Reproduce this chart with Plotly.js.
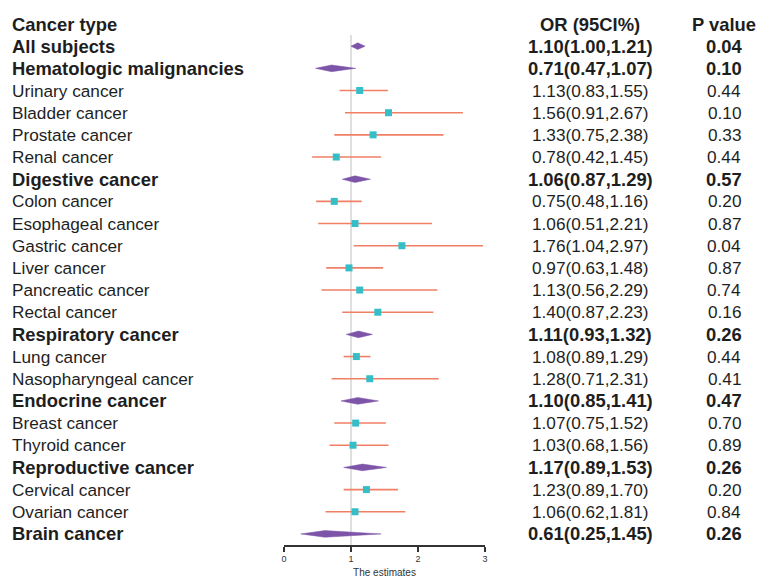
<!DOCTYPE html>
<html>
<head>
<meta charset="utf-8">
<script src="https://cdn.plot.ly/plotly-3.0.1.min.js"></script>
<style>
  body { margin: 0; background: #fff; }
  #forest { width: 767px; height: 584px; }
</style>
</head>
<body>
<div id="forest"></div>
<script>
// Cancer types, odds ratios and 95% CI
const cancerTypes = ['All subjects', 'Hematologic malignancies', 'Urinary cancer', 'Bladder cancer',
    'Prostate cancer', 'Renal cancer', 'Digestive cancer', 'Colon cancer', 'Esophageal cancer',
    'Gastric cancer', 'Liver cancer', 'Pancreatic cancer', 'Rectal cancer', 'Respiratory cancer',
    'Lung cancer', 'Nasopharyngeal cancer', 'Endocrine cancer', 'Breast cancer', 'Thyroid cancer',
    'Reproductive cancer', 'Cervical cancer', 'Ovarian cancer', 'Brain cancer'];
const orValues = [1.10, 0.71, 1.13, 1.56, 1.33, 0.78, 1.06, 0.75, 1.06, 1.76, 0.97, 1.13, 1.40,
    1.11, 1.08, 1.28, 1.10, 1.07, 1.03, 1.17, 1.23, 1.06, 0.61];
const ciLow = [1.00, 0.47, 0.83, 0.91, 0.75, 0.42, 0.87, 0.48, 0.51, 1.04, 0.63, 0.56, 0.87,
    0.93, 0.89, 0.71, 0.85, 0.75, 0.68, 0.89, 0.89, 0.62, 0.25];
const ciHigh = [1.21, 1.07, 1.55, 2.67, 2.38, 1.45, 1.29, 1.16, 2.21, 2.97, 1.48, 2.29, 2.23,
    1.32, 1.29, 2.31, 1.41, 1.52, 1.56, 1.53, 1.70, 1.81, 1.45];
const pValues = ['0.04', '0.10', '0.44', '0.10', '0.33', '0.44', '0.57', '0.20', '0.87', '0.04',
    '0.87', '0.74', '0.16', '0.26', '0.44', '0.41', '0.47', '0.70', '0.89', '0.26', '0.20', '0.84', '0.26'];
const isSummary = [true, true, false, false, false, false, true, false, false, false, false, false,
    false, true, false, false, true, false, false, true, false, false, true];
const xTicks = [0, 1, 2, 3];

const rows = cancerTypes.map((_, i) => i + 1);
const fam = 'Liberation Sans, Arial, Helvetica, sans-serif';
const txtColor = '#1e1e1e';

const traces = [];

// CI lines for individual cancers
const lx = [], ly = [], mx = [], my = [];
cancerTypes.forEach((name, i) => {
    if (isSummary[i]) return;
    lx.push(ciLow[i], ciHigh[i], null);
    ly.push(rows[i], rows[i], null);
    mx.push(orValues[i]);
    my.push(rows[i]);
});
traces.push({
    x: lx, y: ly, type: 'scatter', mode: 'lines',
    line: { color: '#f07f66', width: 1.6 },
    hoverinfo: 'skip', showlegend: false
});
traces.push({
    x: mx, y: my, type: 'scatter', mode: 'markers',
    marker: { symbol: 'square', size: 7, color: '#35bec8' },
    showlegend: false
});

// diamonds for summary rows
const h = 0.15;
cancerTypes.forEach((name, i) => {
    if (!isSummary[i]) return;
    traces.push({
        x: [ciLow[i], orValues[i], ciHigh[i], orValues[i], ciLow[i]],
        y: [rows[i], rows[i] - h, rows[i], rows[i] + h, rows[i]],
        type: 'scatter', mode: 'lines', fill: 'toself',
        fillcolor: '#7d55a8', line: { color: '#7d55a8', width: 0.5 },
        hoverinfo: 'skip', showlegend: false
    });
});

// text columns
const annotations = [];
function txt(x, y, s, bold, anchor) {
    annotations.push({
        xref: 'paper', yref: 'y', x: x, y: y, xanchor: anchor, yanchor: 'middle',
        text: bold ? '<b>' + s + '</b>' : s, showarrow: false,
        font: { family: fam, size: bold ? 18.4 : 17.2, color: txtColor }
    });
}
txt(10 / 767, 0, 'Cancer type', true, 'left');
txt(590 / 767, 0, 'OR (95CI%)', true, 'center');
txt(724 / 767, 0, 'P value', true, 'center');
cancerTypes.forEach((name, i) => {
    const b = isSummary[i];
    txt(10 / 767, rows[i], name, b, 'left');
    txt(590 / 767, rows[i], orValues[i].toFixed(2) + '(' + ciLow[i].toFixed(2) + ',' + ciHigh[i].toFixed(2) + ')', b, 'center');
    txt(724 / 767, rows[i], pValues[i], b, 'center');
});

const layout = {
    width: 767, height: 584,
    margin: { l: 0, r: 0, t: 0, b: 0 },
    paper_bgcolor: '#ffffff', plot_bgcolor: '#ffffff',
    showlegend: false,
    xaxis: {
        domain: [284 / 767, 485 / 767],
        range: [0, 3], tickvals: xTicks, ticktext: xTicks.map(String),
        showgrid: false, zeroline: false,
        showline: true, linecolor: '#333', linewidth: 1.5,
        ticks: 'outside', ticklen: 5, tickwidth: 1.5, tickcolor: '#333',
        tickfont: { family: fam, size: 9, color: '#333' },
        title: { text: 'The estimates', font: { family: fam, size: 10, color: '#333' }, standoff: 5 },
        automargin: false, fixedrange: true
    },
    yaxis: {
        domain: [39 / 584, 1],
        range: [23.5, -1.083],
        visible: false, fixedrange: true
    },
    shapes: [{
        type: 'line', xref: 'x', yref: 'y', x0: 1, x1: 1, y0: 0.5, y1: 23.5,
        line: { color: '#d4d4d4', width: 1.5 }, layer: 'below'
    }],
    annotations: annotations
};

Plotly.newPlot('forest', traces, layout, { displayModeBar: false, staticPlot: true });
</script>
</body>
</html>
